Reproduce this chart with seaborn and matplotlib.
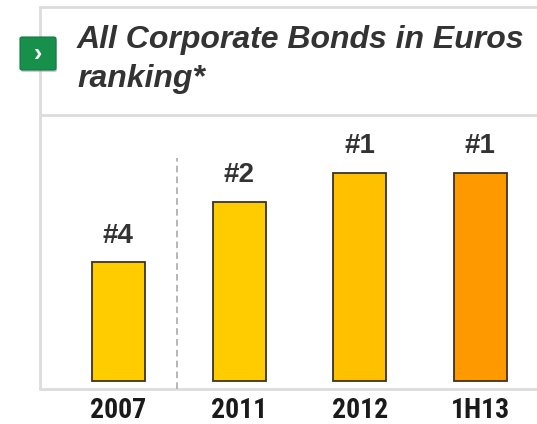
import matplotlib
matplotlib.use("Agg")
import matplotlib.pyplot as plt
from matplotlib.lines import Line2D
from matplotlib.patches import FancyBboxPatch
import seaborn as sns

# Ranking data
periods = ["2007", "2011", "2012", "1H13"]
bar_heights = [57, 86, 100, 100]
rank_labels = ["#4", "#2", "#1", "#1"]
bar_colors = ["#FFCC00", "#FFCC00", "#FFC000", "#FF9900"]
title_lines = ["All Corporate Bonds in Euros", "ranking*"]

sns.set_theme(style="white")
plt.rcParams["font.family"] = ["Liberation Sans", "DejaVu Sans"]

W, H, DPI = 537, 424, 100
fig = plt.figure(figsize=(W / DPI, H / DPI), dpi=DPI)
fig.patch.set_facecolor("white")


def fx(px):
    return px / W


def fy(py):
    return 1 - py / H


# Bar area: from the panel's left border to the right edge, baseline at y=389 px
ax_left, ax_right, ax_top, ax_bottom = 40, 537, 115, 389
ax = fig.add_axes([fx(ax_left), fy(ax_bottom), fx(ax_right - ax_left),
                   (ax_bottom - ax_top) / H])
ax.set_facecolor("none")

sns.barplot(x=periods, y=bar_heights, hue=periods, palette=bar_colors,
            legend=False, width=0.44, edgecolor="#3b3322", linewidth=1.3,
            saturation=1, ax=ax)

ax.set_xlim(-0.65, 3.47)
ax.set_ylim(-3.85, 127.9)

for i, (h, lab) in enumerate(zip(bar_heights, rank_labels)):
    ax.annotate(lab, xy=(i, h), xytext=(0, 10), textcoords="offset points",
                ha="center", va="bottom", fontsize=20, fontweight="bold",
                color="#333333")

# Dashed separator between 2007 and the recent periods
ax.axvline(0.485, ymin=0, ymax=0.843, color="#aaaaaa", lw=1.2,
           ls=(0, (4, 2.5)))

for s in ax.spines.values():
    s.set_visible(False)
ax.set_yticks([])
ax.set_xlabel("")
ax.set_ylabel("")
ax.tick_params(axis="x", length=0, pad=6)
for t in ax.get_xticklabels():
    t.set_fontfamily(["Roboto Condensed", "Liberation Sans Narrow", "DejaVu Sans"])
    t.set_fontstretch("condensed")
    t.set_fontweight("bold")
    t.set_fontsize(20)
    t.set_color("#1a1a1a")

# Panel frame
frame_kw = dict(color="#dcdcdc", lw=2.0, transform=fig.transFigure, zorder=0)
fig.add_artist(Line2D([fx(40), fx(40)], [fy(7), fy(389)], **frame_kw))
for yy in (7, 115, 389):
    fig.add_artist(Line2D([fx(40), fx(537)], [fy(yy), fy(yy)], **frame_kw))

# Green arrow badge
shadow = FancyBboxPatch((fx(21), fy(72)), fx(36), (33) / H,
                        boxstyle="round,pad=0,rounding_size=0.004",
                        transform=fig.transFigure, facecolor="#9a9a9a",
                        edgecolor="none", alpha=0.5, zorder=2)
fig.add_artist(shadow)
badge = FancyBboxPatch((fx(20), fy(70)), fx(36), (33) / H,
                       boxstyle="round,pad=0,rounding_size=0.004",
                       transform=fig.transFigure, facecolor="#17904c",
                       edgecolor="#127a40", lw=0.8, zorder=3)
fig.add_artist(badge)
fig.text(fx(38), fy(54), "\u203a", ha="center", va="center", fontsize=18,
         fontweight="bold", color="white", zorder=4)

# Title
fig.text(fx(77), fy(48), title_lines[0], ha="left", va="baseline",
         fontsize=23, fontweight="bold", fontstyle="italic", color="#333333")
fig.text(fx(77), fy(87), title_lines[1], ha="left", va="baseline",
         fontsize=23, fontweight="bold", fontstyle="italic", color="#333333")

fig.savefig("out.png", dpi=DPI, facecolor="white")
